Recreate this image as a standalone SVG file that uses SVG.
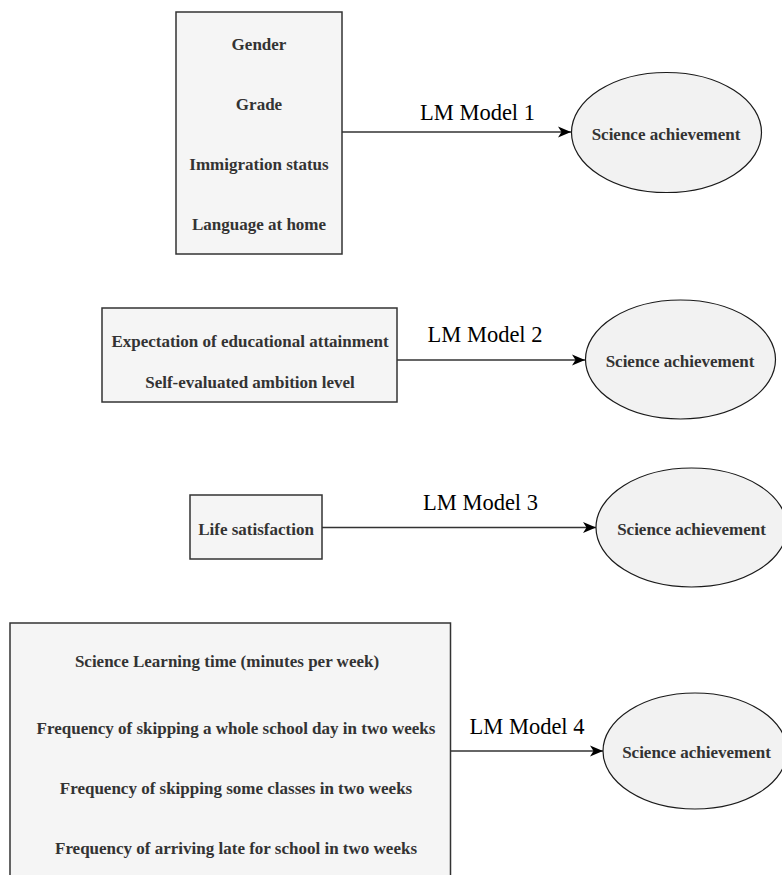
<svg xmlns="http://www.w3.org/2000/svg" width="782" height="875" viewBox="0 0 782 875">
<style>
.box{fill:#f5f5f5;stroke:#333;stroke-width:1.5}
.ell{fill:#f2f2f2;stroke:#1a1a1a;stroke-width:1.2}
.t{font-family:"Liberation Serif","Times New Roman",serif;font-weight:bold;font-size:17px;fill:#333;text-anchor:middle}
.lbl{font-family:"Liberation Serif","Times New Roman",serif;font-size:22.5px;fill:#000;text-anchor:middle}
.edge{stroke:#333;stroke-width:1.5;fill:none}
</style>
<defs>
<marker id="arr" markerWidth="14" markerHeight="12" refX="13" refY="6" orient="auto" markerUnits="userSpaceOnUse">
<path d="M0,0.5 L13,6 L0,11.5 L3.5,6 Z" fill="#000"/>
</marker>
</defs>
<rect width="782" height="875" fill="#fff"/>
<g id="connectors">
<line class="edge" x1="342" y1="132" x2="571" y2="132" marker-end="url(#arr)"/>
<line class="edge" x1="397" y1="360" x2="585" y2="360" marker-end="url(#arr)"/>
<line class="edge" x1="322" y1="527.5" x2="596" y2="527.5" marker-end="url(#arr)"/>
<line class="edge" x1="451" y1="751" x2="603" y2="751" marker-end="url(#arr)"/>
<text class="lbl" x="477.5" y="120">LM Model 1</text>
<text class="lbl" x="485" y="342">LM Model 2</text>
<text class="lbl" x="480.5" y="510">LM Model 3</text>
<text class="lbl" x="527" y="734">LM Model 4</text>
</g>
<g id="box1">
<rect class="box" x="176" y="12" width="166" height="242"/>
<text class="t" x="259" y="50">Gender</text>
<text class="t" x="259" y="110">Grade</text>
<text class="t" x="259" y="170">Immigration status</text>
<text class="t" x="259" y="230">Language at home</text>
</g>
<g id="ellipse1">
<ellipse class="ell" cx="666.5" cy="132.5" rx="95" ry="60"/>
<text class="t" x="666" y="140">Science achievement</text>
</g>
<g id="box2">
<rect class="box" x="102" y="308" width="295" height="94"/>
<text class="t" x="250" y="346.5">Expectation of educational attainment</text>
<text class="t" x="250" y="388">Self-evaluated ambition level</text>
</g>
<g id="ellipse2">
<ellipse class="ell" cx="680.5" cy="359.5" rx="95" ry="59.5"/>
<text class="t" x="680" y="367">Science achievement</text>
</g>
<g id="box3">
<rect class="box" x="190" y="495" width="132" height="64"/>
<text class="t" x="256" y="535">Life satisfaction</text>
</g>
<g id="ellipse3">
<ellipse class="ell" cx="691.5" cy="527.5" rx="95.5" ry="59.5"/>
<text class="t" x="691.5" y="535">Science achievement</text>
</g>
<g id="box4">
<rect class="box" x="10" y="623" width="440.5" height="262"/>
<text class="t" x="227" y="667">Science Learning time (minutes per week)</text>
<text class="t" x="236" y="734">Frequency of skipping a whole school day in two weeks</text>
<text class="t" x="236" y="794">Frequency of skipping some classes in two weeks</text>
<text class="t" x="236" y="854">Frequency of arriving late for school in two weeks</text>
</g>
<g id="ellipse4">
<ellipse class="ell" cx="695" cy="751" rx="92" ry="58"/>
<text class="t" x="696.5" y="758">Science achievement</text>
</g>
</svg>
